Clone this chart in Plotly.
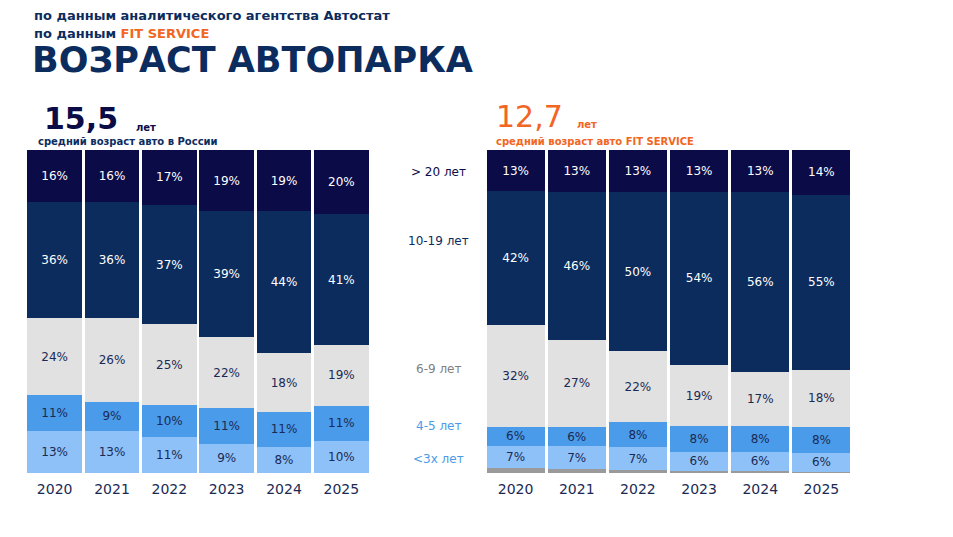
import plotly.graph_objects as go

years = ["2020", "2021", "2022", "2023", "2024", "2025"]
groups = ["<3х лет", "4-5 лет", "6-9 лет", "10-19 лет", "> 20 лет"]
russia = {
    "<3х лет": [13, 13, 11, 9, 8, 10],
    "4-5 лет": [11, 9, 10, 11, 11, 11],
    "6-9 лет": [24, 26, 25, 22, 18, 19],
    "10-19 лет": [36, 36, 37, 39, 44, 41],
    "> 20 лет": [16, 16, 17, 19, 19, 20],
}
fit = {
    "<3х лет": [7, 7, 7, 6, 6, 6],
    "4-5 лет": [6, 6, 8, 8, 8, 8],
    "6-9 лет": [32, 27, 22, 19, 17, 18],
    "10-19 лет": [42, 46, 50, 54, 56, 55],
    "> 20 лет": [13, 13, 13, 13, 13, 14],
}
fit_other = [1.5, 1.3, 1.0, 0.6, 0.6, 0.4]

FONT = "DejaVu Sans"
colors = {"<3х лет": "#8ec1f7", "4-5 лет": "#4a9be9", "6-9 лет": "#e1e1e1",
          "10-19 лет": "#0c2c5e", "> 20 лет": "#0b0b47"}
tcol = {"<3х лет": "#1a2a55", "4-5 лет": "#1a2a55", "6-9 лет": "#1a2a55",
        "10-19 лет": "white", "> 20 лет": "white"}
lblcol = {"<3х лет": "#4a9be9", "4-5 лет": "#4a9be9", "6-9 лет": "#808080",
          "10-19 лет": "#0c2c5e", "> 20 лет": "#0b0b47"}
lbly = {"<3х лет": 459, "4-5 лет": 426, "6-9 лет": 369, "10-19 лет": 241, "> 20 лет": 172}

fig = go.Figure()
fig.add_trace(go.Bar(x=years, y=fit_other, marker_color="#9a9a9a", xaxis="x2", yaxis="y2",
                     showlegend=False, hoverinfo="skip", marker_line_width=0))
for g in groups:
    for data, xa, ya in ((russia, "x", "y"), (fit, "x2", "y2")):
        fig.add_trace(go.Bar(x=years, y=data[g], marker_color=colors[g], marker_line_width=0,
                             text=[f"{v}%" for v in data[g]], textposition="inside", insidetextanchor="middle",
                             constraintext="none", cliponaxis=False,
                             textfont=dict(color=tcol[g], size=12, family=FONT), showlegend=False,
                             xaxis=xa, yaxis=ya, textangle=0))

OFF = 8
H = 537
def py(p):
    return 1 - (p - OFF) / H

ax = dict(showgrid=False, zeroline=False, showline=False, tickfont=dict(size=14, color="#1a2a55", family=FONT),
          ticks="", ticklabelstandoff=6)
fig.update_layout(
    width=953, height=537, margin=dict(l=0, r=0, t=0, b=0),
    paper_bgcolor="white", plot_bgcolor="white",
    barmode="stack", barnorm="percent", bargap=0.05,
    xaxis=dict(domain=[18/953, 362/953], **ax),
    xaxis2=dict(domain=[477/953, 844/953], **ax),
    yaxis=dict(domain=[py(473), py(150)], range=[0, 100], visible=False),
    yaxis2=dict(domain=[py(473), py(150)], range=[0, 100], visible=False, anchor="x2"),
    font=dict(family=FONT),
)
ann = [
    dict(x=24, y=15, text="по данным аналитического агентства Автостат", size=13, color="#0c2c5e", bold=True),
    dict(x=24, y=33, text="по данным <span style='color:#f26522'>FIT SERVICE</span>", size=13, color="#0c2c5e", bold=True),
    dict(x=22, y=60, text="ВОЗРАСТ АВТОПАРКА", size=35, color="#0c2c5e", bold=True),
    dict(x=34, y=118, text="15,5", size=30, color="#0b0b47", bold=True),
    dict(x=126, y=127, text="лет", size=10, color="#0b0b47", bold=True),
    dict(x=28, y=142, text="средний возраст авто в России", size=10, color="#0c2c5e", bold=True),
    dict(x=486, y=117, text="12,7", size=30, color="#f26522", bold=False),
    dict(x=567, y=124, text="лет", size=10, color="#f26522", bold=True),
    dict(x=486, y=142, text="средний возраст авто FIT SERVICE", size=10, color="#f26522", bold=True),
]
for a in ann:
    t = f"<b>{a['text']}</b>" if a["bold"] else a["text"]
    fig.add_annotation(x=a["x"]/953, y=py(a["y"]), xref="paper", yref="paper", text=t, showarrow=False,
                       xanchor="left", yanchor="middle", font=dict(size=a["size"], color=a["color"], family=FONT))
for g in groups:
    fig.add_annotation(x=430/953, y=py(lbly[g]), xref="paper", yref="paper", text=g, showarrow=False,
                       xanchor="center", yanchor="middle", font=dict(size=12, color=lblcol[g], family=FONT))
fig.write_html("out.html")
